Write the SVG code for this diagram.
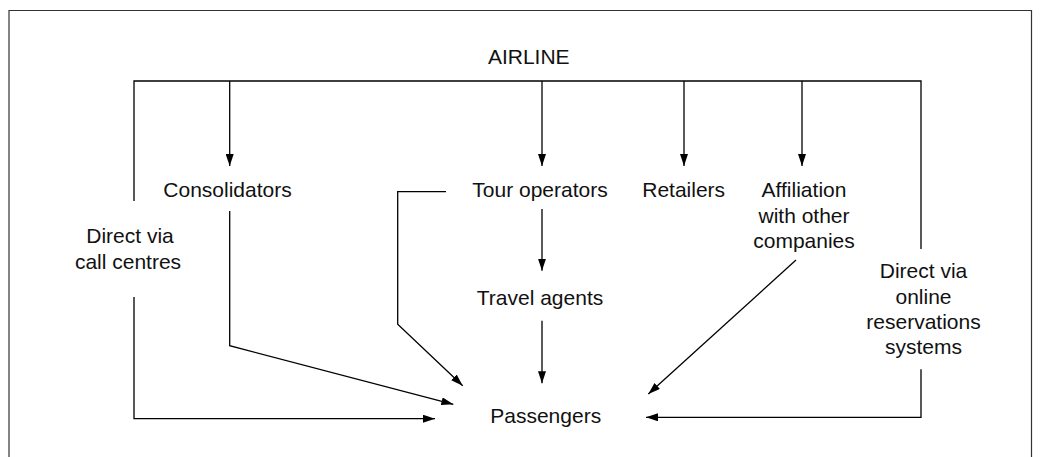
<svg xmlns="http://www.w3.org/2000/svg" width="1048" height="457" viewBox="0 0 1048 457">
  <style>
    .lbl { font-family: "Liberation Sans", Arial, sans-serif; font-size: 21px; fill: #111; text-anchor: middle; }
    .ln { fill: none; stroke: #000; stroke-width: 1.3; }
    .arr { fill: none; stroke: #000; stroke-width: 1.3; marker-end: url(#head); }
    .frame { fill: none; stroke: #333; stroke-width: 1.2; }
  </style>
  <defs>
    <marker id="head" viewBox="0 0 12 8" refX="12" refY="4" markerWidth="12" markerHeight="8" markerUnits="userSpaceOnUse" orient="auto">
      <path d="M0,0 L12,4 L0,8 z" fill="#000"/>
    </marker>
  </defs>

  <rect width="1048" height="457" fill="#fff"/>
  <!-- outer frame, open at the bottom -->
  <path class="frame" d="M9,457 V10.5 H1031.5 V457"/>

  <g id="connectors">
    <!-- airline distribution bar -->
    <path class="ln" d="M134,201 V81 H921 V249"/>
    <path class="arr" d="M229.7,81 V166"/>
    <path class="arr" d="M542,81 V166"/>
    <path class="arr" d="M684,81 V166"/>
    <path class="arr" d="M802,81 V166"/>
    <!-- call centres to passengers -->
    <path class="arr" d="M134,297 V418.7 H435"/>
    <!-- consolidators to passengers -->
    <path class="arr" d="M229.7,211 V345.7 L453.3,404.3"/>
    <!-- tour operators direct to passengers -->
    <path class="arr" d="M446,191.7 H397.7 V324.3 L462.7,385.7"/>
    <!-- tour operators via travel agents -->
    <path class="arr" d="M542,209 V270.7"/>
    <path class="arr" d="M542,320.7 V383.3"/>
    <!-- affiliation to passengers -->
    <path class="arr" d="M796,260 L648.3,394"/>
    <!-- online reservations to passengers -->
    <path class="arr" d="M921,369.3 V417.3 H646"/>
  </g>

  <g id="airline"><text class="lbl" x="528.8" y="64">AIRLINE</text></g>
  <g id="consolidators"><text class="lbl" x="227.5" y="197">Consolidators</text></g>
  <g id="call-centres">
    <text class="lbl" x="130" y="243.3">Direct via</text>
    <text class="lbl" x="128" y="268.5">call centres</text>
  </g>
  <g id="tour-operators"><text class="lbl" x="540" y="197">Tour operators</text></g>
  <g id="retailers"><text class="lbl" x="683.7" y="197">Retailers</text></g>
  <g id="affiliation">
    <text class="lbl" x="804" y="197">Affiliation</text>
    <text class="lbl" x="804" y="222.6">with other</text>
    <text class="lbl" x="804" y="248.2">companies</text>
  </g>
  <g id="travel-agents"><text class="lbl" x="540" y="305">Travel agents</text></g>
  <g id="online">
    <text class="lbl" x="923.5" y="278.3">Direct via</text>
    <text class="lbl" x="923.5" y="303.6">online</text>
    <text class="lbl" x="923.5" y="329">reservations</text>
    <text class="lbl" x="923.5" y="354.3">systems</text>
  </g>
  <g id="passengers"><text class="lbl" x="545.7" y="423.3">Passengers</text></g>
</svg>
